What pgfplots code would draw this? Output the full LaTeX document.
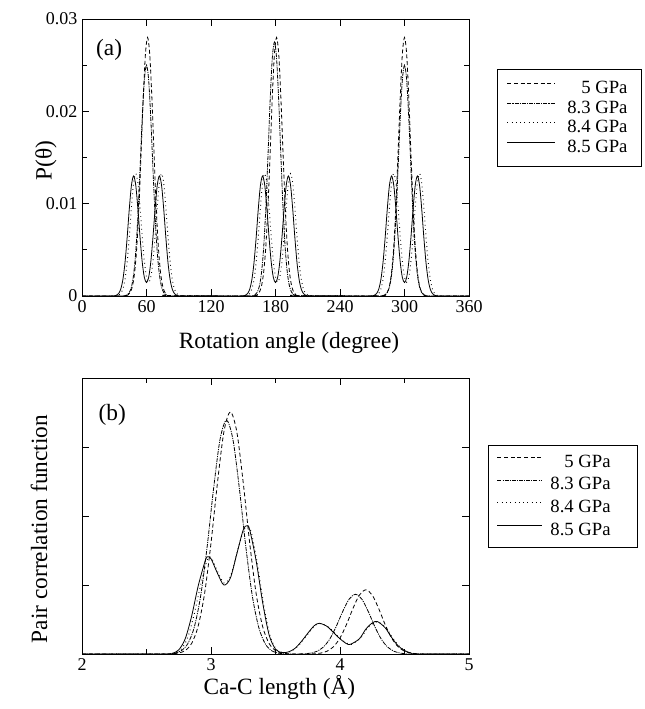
\documentclass[border=0pt]{standalone}
\usepackage{pgfplots}
\pgfplotsset{compat=1.18}
\usepackage{fontspec}
\setmainfont{Liberation Serif}

\pgfplotsset{
  panel/.style={
    scale only axis,
    width=290.25pt,
    axis line style={line width=0.7pt},
    tick style={black, line width=0.5pt},
    major tick length=5pt,
    minor tick length=4pt,
    tick align=inside,
    tick pos=both,
    /pgf/number format/assume math mode=true,
    ticklabel style={font=\fontsize{13.5}{16}\selectfont},
    label style={font=\fontsize{17.5}{21}\selectfont},
    legend cell align=right,
  },
  p5/.style={black, line width=0.6pt, dash pattern=on 3pt off 2pt},
  p83/.style={black, line width=0.6pt, dash pattern=on 3pt off 0.8pt on 0.8pt off 0.8pt},
  p84/.style={black, line width=0.7pt, dash pattern=on 0.6pt off 2.6pt},
  p85/.style={black, line width=0.6pt},
}
\newcommand{\padA}{\rule{10.5pt}{0pt}}
\newcommand{\padB}{\rule{20pt}{0pt}}

\begin{document}
\begin{tikzpicture}
\useasboundingbox (0,0) rectangle (483pt,531.75pt);

% (a) rotation angle distribution
\begin{axis}[panel,
  at={(61.5pt,309.75pt)}, anchor=south west,
  height=207.75pt,
  xmin=0, xmax=360, ymin=0, ymax=0.03,
  xtick={0,60,...,360},
  ytick={0,0.01,0.02,0.03},
  minor y tick num=1,
  scaled y ticks=false,
  yticklabel style={/pgf/number format/fixed, /pgf/number format/precision=2},
  xlabel={Rotation angle (degree)},
  ylabel={P(θ)},
  xlabel style={at={(axis description cs:0.535,-0.17)}, anchor=center},
  ylabel style={at={(axis description cs:-0.093,0.49)}, anchor=center},
  legend style={at={(1.072,0.819)}, anchor=north west, draw=black, line width=0.75pt,
    font=\fontsize{14}{16}\selectfont, row sep=2.6pt, column sep=0pt,
    inner xsep=0pt, inner ysep=8.5pt,
    nodes={inner sep=0pt, text height=9.5pt, text depth=2.5pt}},
  legend image code/.code={\path[draw=none] (0pt,0pt) -- (52.5pt,0pt); \draw[#1] (7.5pt,4pt) -- (43.5pt,4pt);},
]
\addplot[p5, smooth] coordinates {
(0,0)(39,0)
(41,0.00004)(43,0.00013)(45,0.00041)(47,0.00109)(49,0.00259)(51,0.00535)(53,0.00972)(55,0.01546)(57,0.0215)(59,0.0262)(61,0.028)(63,0.0262)(65,0.0215)(67,0.01546)(69,0.00972)(71,0.00535)(73,0.00259)(75,0.00109)(77,0.00041)(79,0.00013)(81,0.00004)
(159,0)
(161,0.00004)(163,0.00013)(165,0.00041)(167,0.00109)(169,0.00259)(171,0.00535)(173,0.00972)(175,0.01546)(177,0.0215)(179,0.0262)(181,0.028)(183,0.0262)(185,0.0215)(187,0.01546)(189,0.00972)(191,0.00535)(193,0.00259)(195,0.00109)(197,0.00041)(199,0.00013)(201,0.00004)
(278,0)
(280,0.00004)(282,0.00013)(284,0.00041)(286,0.00109)(288,0.00259)(290,0.00535)(292,0.00972)(294,0.01546)(296,0.0215)(298,0.0262)(300,0.028)(302,0.0262)(304,0.0215)(306,0.01546)(308,0.00972)(310,0.00535)(312,0.00259)(314,0.00109)(316,0.00041)(318,0.00013)(320,0.00004)
(322,0)(360,0)
};
\addlegendentry{5 GPa\padA}
\addplot[p83, smooth] coordinates {
(0,0)(38,0)
(40,0.00004)(42,0.00012)(44,0.00037)(46,0.00098)(48,0.00231)(50,0.00478)(52,0.00868)(54,0.0138)(56,0.0192)(58,0.0234)(60,0.025)(62,0.0234)(64,0.0192)(66,0.0138)(68,0.00868)(70,0.00478)(72,0.00231)(74,0.00098)(76,0.00037)(78,0.00012)(80,0.00004)
(157,0)
(159,0.00004)(161,0.00013)(163,0.0004)(165,0.00107)(167,0.00254)(169,0.00525)(171,0.00954)(173,0.01518)(175,0.02112)(177,0.02574)(179,0.0275)(181,0.02574)(183,0.02112)(185,0.01518)(187,0.00954)(189,0.00525)(191,0.00254)(193,0.00107)(195,0.0004)(197,0.00013)(199,0.00004)
(278,0)
(280,0.00004)(282,0.00012)(284,0.00037)(286,0.00098)(288,0.00231)(290,0.00478)(292,0.00868)(294,0.0138)(296,0.0192)(298,0.0234)(300,0.025)(302,0.0234)(304,0.0192)(306,0.0138)(308,0.00868)(310,0.00478)(312,0.00231)(314,0.00098)(316,0.00037)(318,0.00012)(320,0.00004)
(322,0)(360,0)
};
\addlegendentry{8.3 GPa\padA}
\addplot[p84, smooth] coordinates {
(0,0)(30,0)(32,0.00002)(34,0.00008)(36,0.00027)(38,0.00074)(40,0.0018)(42,0.00368)(44,0.00646)(46,0.00963)(48,0.01224)(50,0.01326)(52,0.01224)(54,0.00963)(56,0.00648)(58,0.00376)(60,0.00205)(62,0.00149)(64,0.00205)(66,0.00376)(68,0.00648)(70,0.00963)(72,0.01224)(74,0.01326)(76,0.01224)(78,0.00963)(80,0.00646)(82,0.00368)(84,0.0018)(86,0.00074)(88,0.00027)(90,0.00008)(92,0.00002)(94,0)
(150,0)(152,0.00002)(154,0.00008)(156,0.00027)(158,0.00074)(160,0.0018)(162,0.00368)(164,0.00646)(166,0.00963)(168,0.01224)(170,0.01326)(172,0.01224)(174,0.00963)(176,0.00648)(178,0.00376)(180,0.00205)(182,0.00149)(184,0.00205)(186,0.00376)(188,0.00648)(190,0.00963)(192,0.01224)(194,0.01326)(196,0.01224)(198,0.00963)(200,0.00646)(202,0.00368)(204,0.0018)(206,0.00074)(208,0.00027)(210,0.00008)(212,0.00002)(214,0)
(270,0)(272,0.00002)(274,0.00008)(276,0.00027)(278,0.00074)(280,0.0018)(282,0.00368)(284,0.00646)(286,0.00963)(288,0.01224)(290,0.01326)(292,0.01224)(294,0.00963)(296,0.00648)(298,0.00376)(300,0.00205)(302,0.00149)(304,0.00205)(306,0.00376)(308,0.00648)(310,0.00963)(312,0.01224)(314,0.01326)(316,0.01224)(318,0.00963)(320,0.00646)(322,0.00368)(324,0.0018)(326,0.00074)(328,0.00027)(330,0.00008)(332,0.00002)(334,0)(360,0)
};
\addlegendentry{8.4 GPa\padA}
\addplot[p85, smooth] coordinates {
(0,0)(28,0)(30,0.00002)(32,0.00008)(34,0.00026)(36,0.00073)(38,0.00176)(40,0.00361)(42,0.00633)(44,0.00944)(46,0.0120)(48,0.0130)(50,0.0120)(52,0.00944)(54,0.00635)(56,0.00369)(58,0.00201)(60,0.00146)(62,0.00201)(64,0.00369)(66,0.00635)(68,0.00944)(70,0.0120)(72,0.0130)(74,0.0120)(76,0.00944)(78,0.00633)(80,0.00361)(82,0.00176)(84,0.00073)(86,0.00026)(88,0.00008)(90,0.00002)(92,0)
(148,0)(150,0.00002)(152,0.00008)(154,0.00026)(156,0.00073)(158,0.00176)(160,0.00361)(162,0.00633)(164,0.00944)(166,0.0120)(168,0.0130)(170,0.0120)(172,0.00944)(174,0.00635)(176,0.00369)(178,0.00201)(180,0.00146)(182,0.00201)(184,0.00369)(186,0.00635)(188,0.00944)(190,0.0120)(192,0.0130)(194,0.0120)(196,0.00944)(198,0.00633)(200,0.00361)(202,0.00176)(204,0.00073)(206,0.00026)(208,0.00008)(210,0.00002)(212,0)
(268,0)(270,0.00002)(272,0.00008)(274,0.00026)(276,0.00073)(278,0.00176)(280,0.00361)(282,0.00633)(284,0.00944)(286,0.0120)(288,0.0130)(290,0.0120)(292,0.00944)(294,0.00635)(296,0.00369)(298,0.00201)(300,0.00146)(302,0.00201)(304,0.00369)(306,0.00635)(308,0.00944)(310,0.0120)(312,0.0130)(314,0.0120)(316,0.00944)(318,0.00633)(320,0.00361)(322,0.00176)(324,0.00073)(326,0.00026)(328,0.00008)(330,0.00002)(332,0)(360,0)
};
\addlegendentry{8.5 GPa\padA}
\node[font=\fontsize{17.5}{21}\selectfont] at (axis description cs:0.07,0.888) {(a)};
\end{axis}

% (b) Ca-C pair correlation function
\begin{axis}[panel,
  at={(61.5pt,41.25pt)}, anchor=south west,
  height=207pt,
  xmin=2, xmax=5, ymin=0, ymax=4,
  xtick={2,3,4,5},
  minor x tick num=1,
  ytick={1,2,3},
  yticklabels={},
  xlabel={Ca-C length (Å)},
  ylabel={Pair correlation function},
  xlabel style={at={(axis description cs:0.51,-0.123)}, anchor=center},
  ylabel style={at={(axis description cs:-0.111,0.453)}, anchor=center},
  legend style={at={(1.049,0.757)}, anchor=north west, draw=black, line width=0.75pt,
    font=\fontsize{14}{16}\selectfont, row sep=4.9pt, column sep=0pt,
    inner xsep=0pt, inner ysep=6.9pt,
    nodes={inner sep=0pt, text height=9.5pt, text depth=2.5pt}},
  legend image code/.code={\path[draw=none] (0pt,0pt) -- (46.5pt,0pt); \draw[#1] (6.75pt,4pt) -- (40.5pt,4pt);},
]
\addplot[p5, smooth] coordinates {
(2.0,0)(2.65,0)(2.70,0.003)(2.75,0.014)(2.80,0.050)(2.85,0.154)(2.90,0.40)(2.95,0.874)(3.00,1.608)(3.05,2.48)(3.10,3.22)(3.15,3.51)(3.20,3.22)(3.25,2.48)(3.30,1.608)(3.35,0.874)(3.40,0.40)(3.45,0.154)(3.50,0.050)(3.55,0.014)(3.60,0.003)(3.65,0)
(3.75,0)(3.80,0.0036)(3.85,0.013)(3.90,0.041)(3.95,0.106)(4.00,0.232)(4.05,0.426)(4.10,0.658)(4.15,0.853)(4.20,0.93)(4.25,0.853)(4.30,0.658)(4.35,0.426)(4.40,0.232)(4.45,0.106)(4.50,0.041)(4.55,0.013)(4.60,0.0036)(4.65,0)(5.0,0)
};
\addlegendentry{5 GPa\padB}
\addplot[p83, smooth] coordinates {
(2.0,0)(2.62,0)(2.67,0.003)(2.72,0.013)(2.77,0.048)(2.82,0.149)(2.87,0.386)(2.92,0.844)(2.97,1.553)(3.02,2.397)(3.07,3.109)(3.12,3.39)(3.17,3.109)(3.22,2.397)(3.27,1.553)(3.32,0.844)(3.37,0.386)(3.42,0.149)(3.47,0.048)(3.52,0.013)(3.57,0.003)(3.62,0)
(3.67,0)(3.72,0.0034)(3.77,0.012)(3.82,0.038)(3.87,0.099)(3.92,0.215)(3.97,0.396)(4.02,0.612)(4.07,0.793)(4.12,0.865)(4.17,0.793)(4.22,0.612)(4.27,0.396)(4.32,0.215)(4.37,0.099)(4.42,0.038)(4.47,0.012)(4.52,0.0034)(4.57,0)(5.0,0)
};
\addlegendentry{8.3 GPa\padB}
\addplot[p84, smooth] coordinates {
(2.0,0)(2.67,0)(2.72,0.01)(2.77,0.07)(2.82,0.24)(2.87,0.58)(2.92,1.00)(2.97,1.36)(3.00,1.40)(3.05,1.20)(3.10,1.03)(3.15,1.12)(3.20,1.46)(3.25,1.78)(3.28,1.84)(3.31,1.78)(3.36,1.30)(3.41,0.70)(3.46,0.25)(3.51,0.06)(3.56,0.02)(3.61,0.03)(3.66,0.09)(3.71,0.19)(3.76,0.31)(3.81,0.42)(3.85,0.44)(3.91,0.39)(3.96,0.30)(4.01,0.21)(4.06,0.15)(4.09,0.14)(4.16,0.23)(4.21,0.37)(4.26,0.45)(4.30,0.46)(4.36,0.37)(4.41,0.23)(4.46,0.11)(4.51,0.04)(4.56,0.01)(4.61,0)(5.0,0)
};
\addlegendentry{8.4 GPa\padB}
\addplot[p85, smooth] coordinates {
(2.0,0)(2.65,0)(2.70,0.01)(2.75,0.06)(2.80,0.22)(2.85,0.55)(2.90,0.98)(2.95,1.32)(2.97,1.41)(3.00,1.38)(3.05,1.17)(3.10,1.00)(3.15,1.10)(3.20,1.45)(3.25,1.80)(3.28,1.86)(3.30,1.80)(3.35,1.35)(3.40,0.75)(3.45,0.28)(3.50,0.07)(3.55,0.02)(3.60,0.03)(3.65,0.08)(3.70,0.18)(3.75,0.30)(3.80,0.41)(3.84,0.445)(3.90,0.40)(3.95,0.31)(4.00,0.22)(4.05,0.15)(4.08,0.14)(4.15,0.22)(4.20,0.36)(4.25,0.45)(4.29,0.47)(4.35,0.38)(4.40,0.24)(4.45,0.12)(4.50,0.05)(4.55,0.015)(4.60,0)(5.0,0)
};
\addlegendentry{8.5 GPa\padB}
\node[font=\fontsize{17.5}{21}\selectfont] at (axis description cs:0.078,0.866) {(b)};
\end{axis}
\end{tikzpicture}
\end{document}
